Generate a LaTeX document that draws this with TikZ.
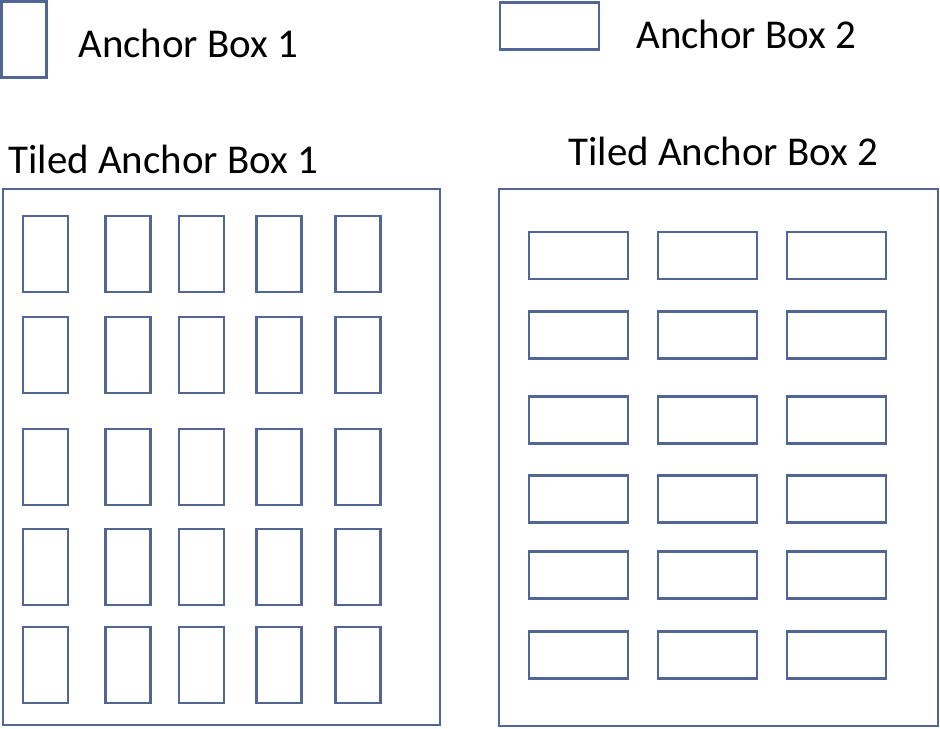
\documentclass[tikz,border=0pt]{standalone}
\usepackage{fontspec}
\setmainfont{Carlito}
\usetikzlibrary{positioning}
\definecolor{anchorblue}{RGB}{82,102,150}

\begin{document}
\begin{tikzpicture}[x=0.02cm, y=-0.02cm, every node/.style={font=\fontsize{23.3}{28}\selectfont}]
    % Define styles for the boxes
    \tikzstyle{tall} = [rectangle, draw=anchorblue, line width=1.4pt, minimum width=0.9cm, minimum height=1.52cm, inner sep=0pt]
    \tikzstyle{wide} = [rectangle, draw=anchorblue, line width=1.4pt, minimum width=1.98cm, minimum height=0.94cm, inner sep=0pt]
    \tikzstyle{frame} = [rectangle, draw=anchorblue, line width=1.4pt, inner sep=0pt]
    \tikzstyle{boxtext} = [anchor=base west, inner sep=0pt]

    \useasboundingbox (0,0) rectangle (940,728);

    % Single anchor boxes and their names
    \node (anchor1) [tall] at (24,39.5) {};
    \node (name1) [boxtext] at (78,57) {Anchor Box 1};
    \node (anchor2) [wide] at (549.5,26) {};
    \node (name2) [boxtext] at (636,48) {Anchor Box 2};

    % Frames holding the tiles
    \node (title1) [boxtext] at (8,173) {Tiled Anchor Box 1};
    \node (frame1) [frame, minimum width=8.74cm, minimum height=10.72cm] at (221.5,457) {};
    \node (title2) [boxtext] at (568,165) {Tiled Anchor Box 2};
    \node (frame2) [frame, minimum width=8.78cm, minimum height=10.74cm] at (718.5,457.5) {};

    % Tiles of anchor box 1
    \foreach \x [count=\c] in {45.5,128,201.5,279,358}
        \foreach \y [count=\r] in {254,355,467,567,665}
            \node (tileA-\r-\c) [tall] at (\x,\y) {};

    % Tiles of anchor box 2
    \foreach \x [count=\c] in {578.5,707.5,836.5}
        \foreach \y [count=\r] in {255.5,335,420,499,575,655}
            \node (tileB-\r-\c) [wide] at (\x,\y) {};

\end{tikzpicture}
\end{document}
